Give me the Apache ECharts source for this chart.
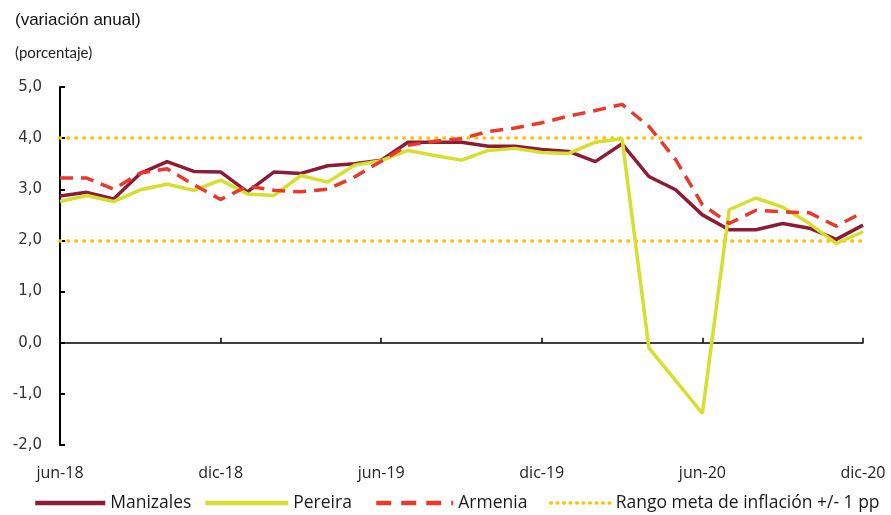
<!DOCTYPE html>
<html>
<head>
<meta charset="utf-8">
<script src="https://cdn.jsdelivr.net/npm/echarts@6/dist/echarts.min.js"></script>
<style>html,body{margin:0;padding:0;background:#fff;}#c{width:891px;height:515px;}</style>
</head>
<body>
<div id="c"></div>
<script>
const months = ['jun-18','jul-18','ago-18','sep-18','oct-18','nov-18','dic-18','ene-19','feb-19','mar-19','abr-19','may-19','jun-19','jul-19','ago-19','sep-19','oct-19','nov-19','dic-19','ene-20','feb-20','mar-20','abr-20','may-20','jun-20','jul-20','ago-20','sep-20','oct-20','nov-20','dic-20'];
const manizales = [2.87,2.94,2.81,3.31,3.54,3.35,3.34,2.95,3.34,3.31,3.46,3.50,3.57,3.92,3.92,3.92,3.84,3.84,3.78,3.74,3.54,3.89,3.25,2.99,2.50,2.21,2.21,2.33,2.24,2.02,2.30];
const pereira = [2.76,2.88,2.76,2.99,3.10,2.98,3.18,2.91,2.88,3.27,3.14,3.47,3.56,3.76,3.66,3.57,3.76,3.80,3.72,3.70,3.92,3.99,-0.10,-0.74,-1.38,2.60,2.83,2.65,2.33,1.94,2.17];
const armenia = [3.22,3.22,3.00,3.32,3.40,3.09,2.80,3.06,2.98,2.95,3.00,3.24,3.55,3.86,3.94,3.99,4.13,4.20,4.30,4.43,4.54,4.66,4.23,3.58,2.70,2.33,2.59,2.56,2.54,2.28,2.55];
const targetBand = [2, 4];
const yTicks = {min: -2, max: 5, interval: 1};
const seriesNames = ['Manizales','Pereira','Armenia','Rango meta de inflación +/- 1 pp'];

const colors = {man:'#8C1B38', per:'#D6DE2E', arm:'#E9392B', rango:'#FFC000'};
const chart = echarts.init(document.getElementById('c'), null, {renderer:'canvas'});
const legendText = {fontFamily:'Open Sans', fontSize:17.5, color:'#1a1a1a'};
function leg(name, left, w, ls){
  return {data:[name], left:left, top:494, padding:0, itemWidth:w, itemHeight:14, itemGap:0, textStyle:legendText,
    itemStyle:{opacity:0}, lineStyle:ls, selectedMode:false};
}
chart.setOption({
  animation:false,
  title:[
    {text:'(variación anual)', left:10, top:7, textStyle:{fontFamily:'Liberation Sans', fontSize:17, fontWeight:'normal', color:'#111'}},
    {text:'(porcentaje)', left:10, top:41, textStyle:{fontFamily:'Lato', fontSize:15, fontWeight:'normal', color:'#222'}}
  ],
  legend:[
    leg(seriesNames[0],33,70,{width:4.5, color:colors.man}),
    leg(seriesNames[1],203,83,{width:4.5, color:colors.per}),
    leg(seriesNames[2],374,77,{width:4.5, color:colors.arm, type:[15,10]}),
    leg(seriesNames[3],549,60,{width:3.5, color:colors.rango, type:[0.5,6], cap:'round'})
  ],
  grid:{left:60, right:28, top:87, bottom:70},
  xAxis:[
    {type:'category', data:months, boundaryGap:false,
     axisLine:{onZero:true, lineStyle:{color:'#000', width:1.5}},
     axisTick:{inside:true, length:5, interval:5, lineStyle:{color:'#000', width:1.5}},
     axisLabel:{show:false}, splitLine:{show:false}},
    {type:'category', data:months, boundaryGap:false, position:'bottom',
     axisLine:{show:false, onZero:false}, axisTick:{show:false},
     axisLabel:{interval:5, margin:20, fontFamily:'Open Sans', fontSize:16, color:'#222', showMaxLabel:true},
     splitLine:{show:false}}
  ],
  yAxis:{type:'value', min:yTicks.min, max:yTicks.max, interval:yTicks.interval,
    axisLine:{show:true, lineStyle:{color:'#000', width:2}},
    axisTick:{show:true, inside:true, length:5, lineStyle:{color:'#000', width:2}},
    axisLabel:{margin:18, fontFamily:'DejaVu Sans', fontSize:15, color:'#333', formatter:v=>v.toFixed(1).replace('.',',')},
    splitLine:{show:false}},
  series:[
    {name:seriesNames[3], type:'line', data:[], symbol:'none', z:1,
     lineStyle:{color:colors.rango, width:3.5, type:[0.5,7.5], cap:'round'}, itemStyle:{color:colors.rango},
     markLine:{silent:true, symbol:'none', label:{show:false}, z:1,
       lineStyle:{color:colors.rango, width:3.5, type:[0.5,7.5], cap:'round'},
       data:targetBand.map(v=>({yAxis:v}))}},
    {name:seriesNames[0], type:'line', data:manizales, symbol:'none', z:2,
     lineStyle:{color:colors.man, width:3.5}, itemStyle:{color:colors.man}},
    {name:seriesNames[1], type:'line', data:pereira, symbol:'none', z:3,
     lineStyle:{color:colors.per, width:3.5}, itemStyle:{color:colors.per}},
    {name:seriesNames[2], type:'line', data:armenia, symbol:'none', z:4,
     lineStyle:{color:colors.arm, width:3.5, type:[13,8]}, itemStyle:{color:colors.arm}}
  ]
});
</script>
</body>
</html>
